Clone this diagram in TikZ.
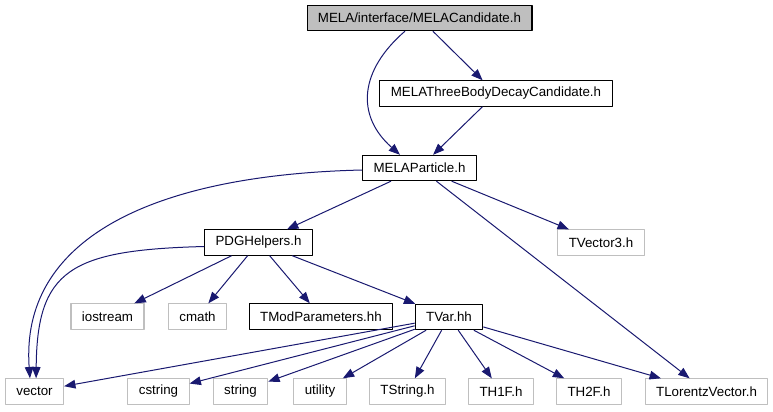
\documentclass[tikz,border=0pt]{standalone}
\usepackage{fontspec}
\setmainfont{Liberation Sans}
\usetikzlibrary{arrows.meta}
\definecolor{EdgeNavy}{HTML}{191970}
\definecolor{FileGray}{HTML}{BFBFBF}

\begin{document}
\begin{tikzpicture}[x=0.75pt,y=-0.75pt,line join=round,
    file/.style={draw=black,line width=0.8pt,fill=white,inner xsep=8.2pt,inner ysep=0pt,
      minimum height=19pt,font=\fontsize{10}{12}\selectfont},
    extfile/.style={file,draw=FileGray},
    dep/.style={EdgeNavy,line width=0.75pt,-{Triangle[length=8.5pt,width=6.5pt]}}]
  \useasboundingbox (0,0) rectangle (773,411);

  \node[file,fill=FileGray] (cand) at (419.5,18) {MELA/interface/MELACandidate.h};
  \node[file] (threebody) at (496,93.5) {MELAThreeBodyDecayCandidate.h};
  \node[file] (particle) at (419.5,168) {MELAParticle.h};
  \node[file] (pdg) at (258.5,242.5) {PDGHelpers.h};
  \node[extfile] (tvecthree) at (601,242.5) {TVector3.h};
  \node[extfile] (iostream) at (107.5,316.5) {iostream};
  \node[extfile] (cmath) at (197.5,316.5) {cmath};
  \node[file] (tmod) at (321,316.5) {TModParameters.hh};
  \node[file] (tvar) at (449,317) {TVar.hh};
  \node[extfile] (vector) at (34.5,391.5) {vector};
  \node[extfile] (cstring) at (158.5,391.5) {cstring};
  \node[extfile] (string) at (240.5,391.5) {string};
  \node[extfile] (utility) at (320,391.5) {utility};
  \node[extfile] (tstring) at (407.5,391.5) {TString.h};
  \node[extfile] (thonef) at (501,391.5) {TH1F.h};
  \node[extfile] (thtwof) at (589,391.5) {TH2F.h};
  \node[extfile] (tlorentz) at (706.5,391.5) {TLorentzVector.h};

  % top of the graph
  \draw[dep] ([xshift=-10.9pt]cand.south) .. controls (360,70) and (355,115) .. ([xshift=-14.6pt]particle.north);
  \draw[dep] (cand) -- (threebody);
  \draw[dep] (threebody) -- (particle);

  % MELAParticle.h
  \draw[dep] ([yshift=-1.5pt]particle.west) .. controls (150,175) and (20,240) .. ([xshift=-3.4pt]vector.north);
  \foreach \dst in {pdg,tvecthree,tlorentz}
    \draw[dep] (particle) -- (\dst);

  % PDGHelpers.h
  \draw[dep] ([yshift=-3pt]pdg.west) .. controls (70,250) and (37,270) .. ([xshift=1.2pt]vector.north);
  \foreach \dst in {iostream,cmath,tmod,tvar}
    \draw[dep] (pdg) -- (\dst);

  % TVar.hh
  \foreach \dst in {vector,cstring,string,utility,tstring,thonef,thtwof,tlorentz}
    \draw[dep] (tvar) -- (\dst);
\end{tikzpicture}
\end{document}
